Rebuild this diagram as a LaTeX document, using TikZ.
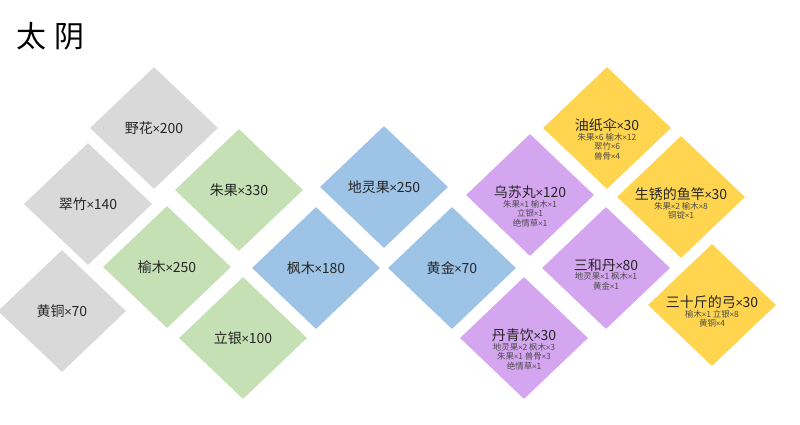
\documentclass[tikz,border=0pt]{standalone}
\usepackage{fontspec}
\setmainfont{Noto Sans CJK SC}
\newfontfamily\latinfont{Carlito}
\newcommand{\mul}{{\latinfont ×}}
\usetikzlibrary{shapes.geometric,positioning}
\definecolor{tilegray}{RGB}{217,217,217}
\definecolor{tilegreen}{RGB}{197,224,180}
\definecolor{tileblue}{RGB}{157,195,230}
\definecolor{tilepurple}{RGB}{213,166,240}
\definecolor{tileyellow}{RGB}{255,213,79}
\begin{document}
\begin{tikzpicture}[x=1pt,y=-1pt,
    tile/.style={diamond,minimum width=128,minimum height=122,inner sep=0,
      text=black!85,font=\fontsize{14}{16}\selectfont},
    itemlabel/.style={inner sep=0,text=black!85,font=\fontsize{14}{16}\selectfont},
    reclines/.style={inner sep=0,align=center,text=black!70,font=\fontsize{8.5}{9.5}\selectfont}]
      \useasboundingbox (0,0) rectangle (800,424);
      \node[anchor=west,inner sep=0,font=\fontsize{30}{32}\selectfont] (title) at (16,36) {太\hspace{8pt}阴};
      % materials
      \node[tile,fill=tilegray] (yehua) at (154,128) {野花\mul 200};
      \node[tile,fill=tilegray] (cuizhu) at (88,204) {翠竹\mul 140};
      \node[tile,fill=tilegray] (huangtong) at (62,311) {黄铜\mul 70};
      \node[tile,fill=tilegreen] (zhuguo) at (239,190) {朱果\mul 330};
      \node[tile,fill=tilegreen] (yumu) at (167,267) {榆木\mul 250};
      \node[tile,fill=tilegreen] (liyin) at (243,338) {立银\mul 100};
      \node[tile,fill=tileblue] (fengmu) at (316,268) {枫木\mul 180};
      \node[tile,fill=tileblue] (diling) at (384,187) {地灵果\mul 250};
      \node[tile,fill=tileblue] (huangjin) at (452,268) {黄金\mul 70};
      % products
      \node[tile,fill=tilepurple] (wusu) at (530,195) {};
      \node[tile,fill=tilepurple] (danqing) at (524,338) {};
      \node[tile,fill=tilepurple] (sanhe) at (606,268) {};
      \node[tile,fill=tileyellow] (youzhi) at (607,128) {};
      \node[tile,fill=tileyellow] (yugan) at (681,197) {};
      \node[tile,fill=tileyellow] (gong) at (712,305) {};
      \node[itemlabel] (wusu-t) at ([yshift=3pt]wusu.center) {乌苏丸\mul 120};
      \node[reclines,below=1pt of wusu-t] (wusu-r) {朱果\mul 1 榆木\mul 1\\立银\mul 1\\绝情草\mul 1};
      \node[itemlabel] (danqing-t) at ([yshift=3pt]danqing.center) {丹青饮\mul 30};
      \node[reclines,below=1pt of danqing-t] (danqing-r) {地灵果\mul 2 枫木\mul 3\\朱果\mul 1 兽骨\mul 3\\绝情草\mul 1};
      \node[itemlabel] (sanhe-t) at ([yshift=3pt]sanhe.center) {三和丹\mul 80};
      \node[reclines,below=1pt of sanhe-t] (sanhe-r) {地灵果\mul 1 枫木\mul 1\\黄金\mul 1};
      \node[itemlabel] (youzhi-t) at ([yshift=3pt]youzhi.center) {油纸伞\mul 30};
      \node[reclines,below=1pt of youzhi-t] (youzhi-r) {朱果\mul 6 榆木\mul 12\\翠竹\mul 6\\兽骨\mul 4};
      \node[itemlabel] (yugan-t) at ([yshift=3pt]yugan.center) {生锈的鱼竿\mul 30};
      \node[reclines,below=1pt of yugan-t] (yugan-r) {朱果\mul 2 榆木\mul 8\\铜锭\mul 1};
      \node[itemlabel] (gong-t) at ([yshift=3pt]gong.center) {三十斤的弓\mul 30};
      \node[reclines,below=1pt of gong-t] (gong-r) {榆木\mul 1 立银\mul 8\\黄铜\mul 4};
\end{tikzpicture}
\end{document}
